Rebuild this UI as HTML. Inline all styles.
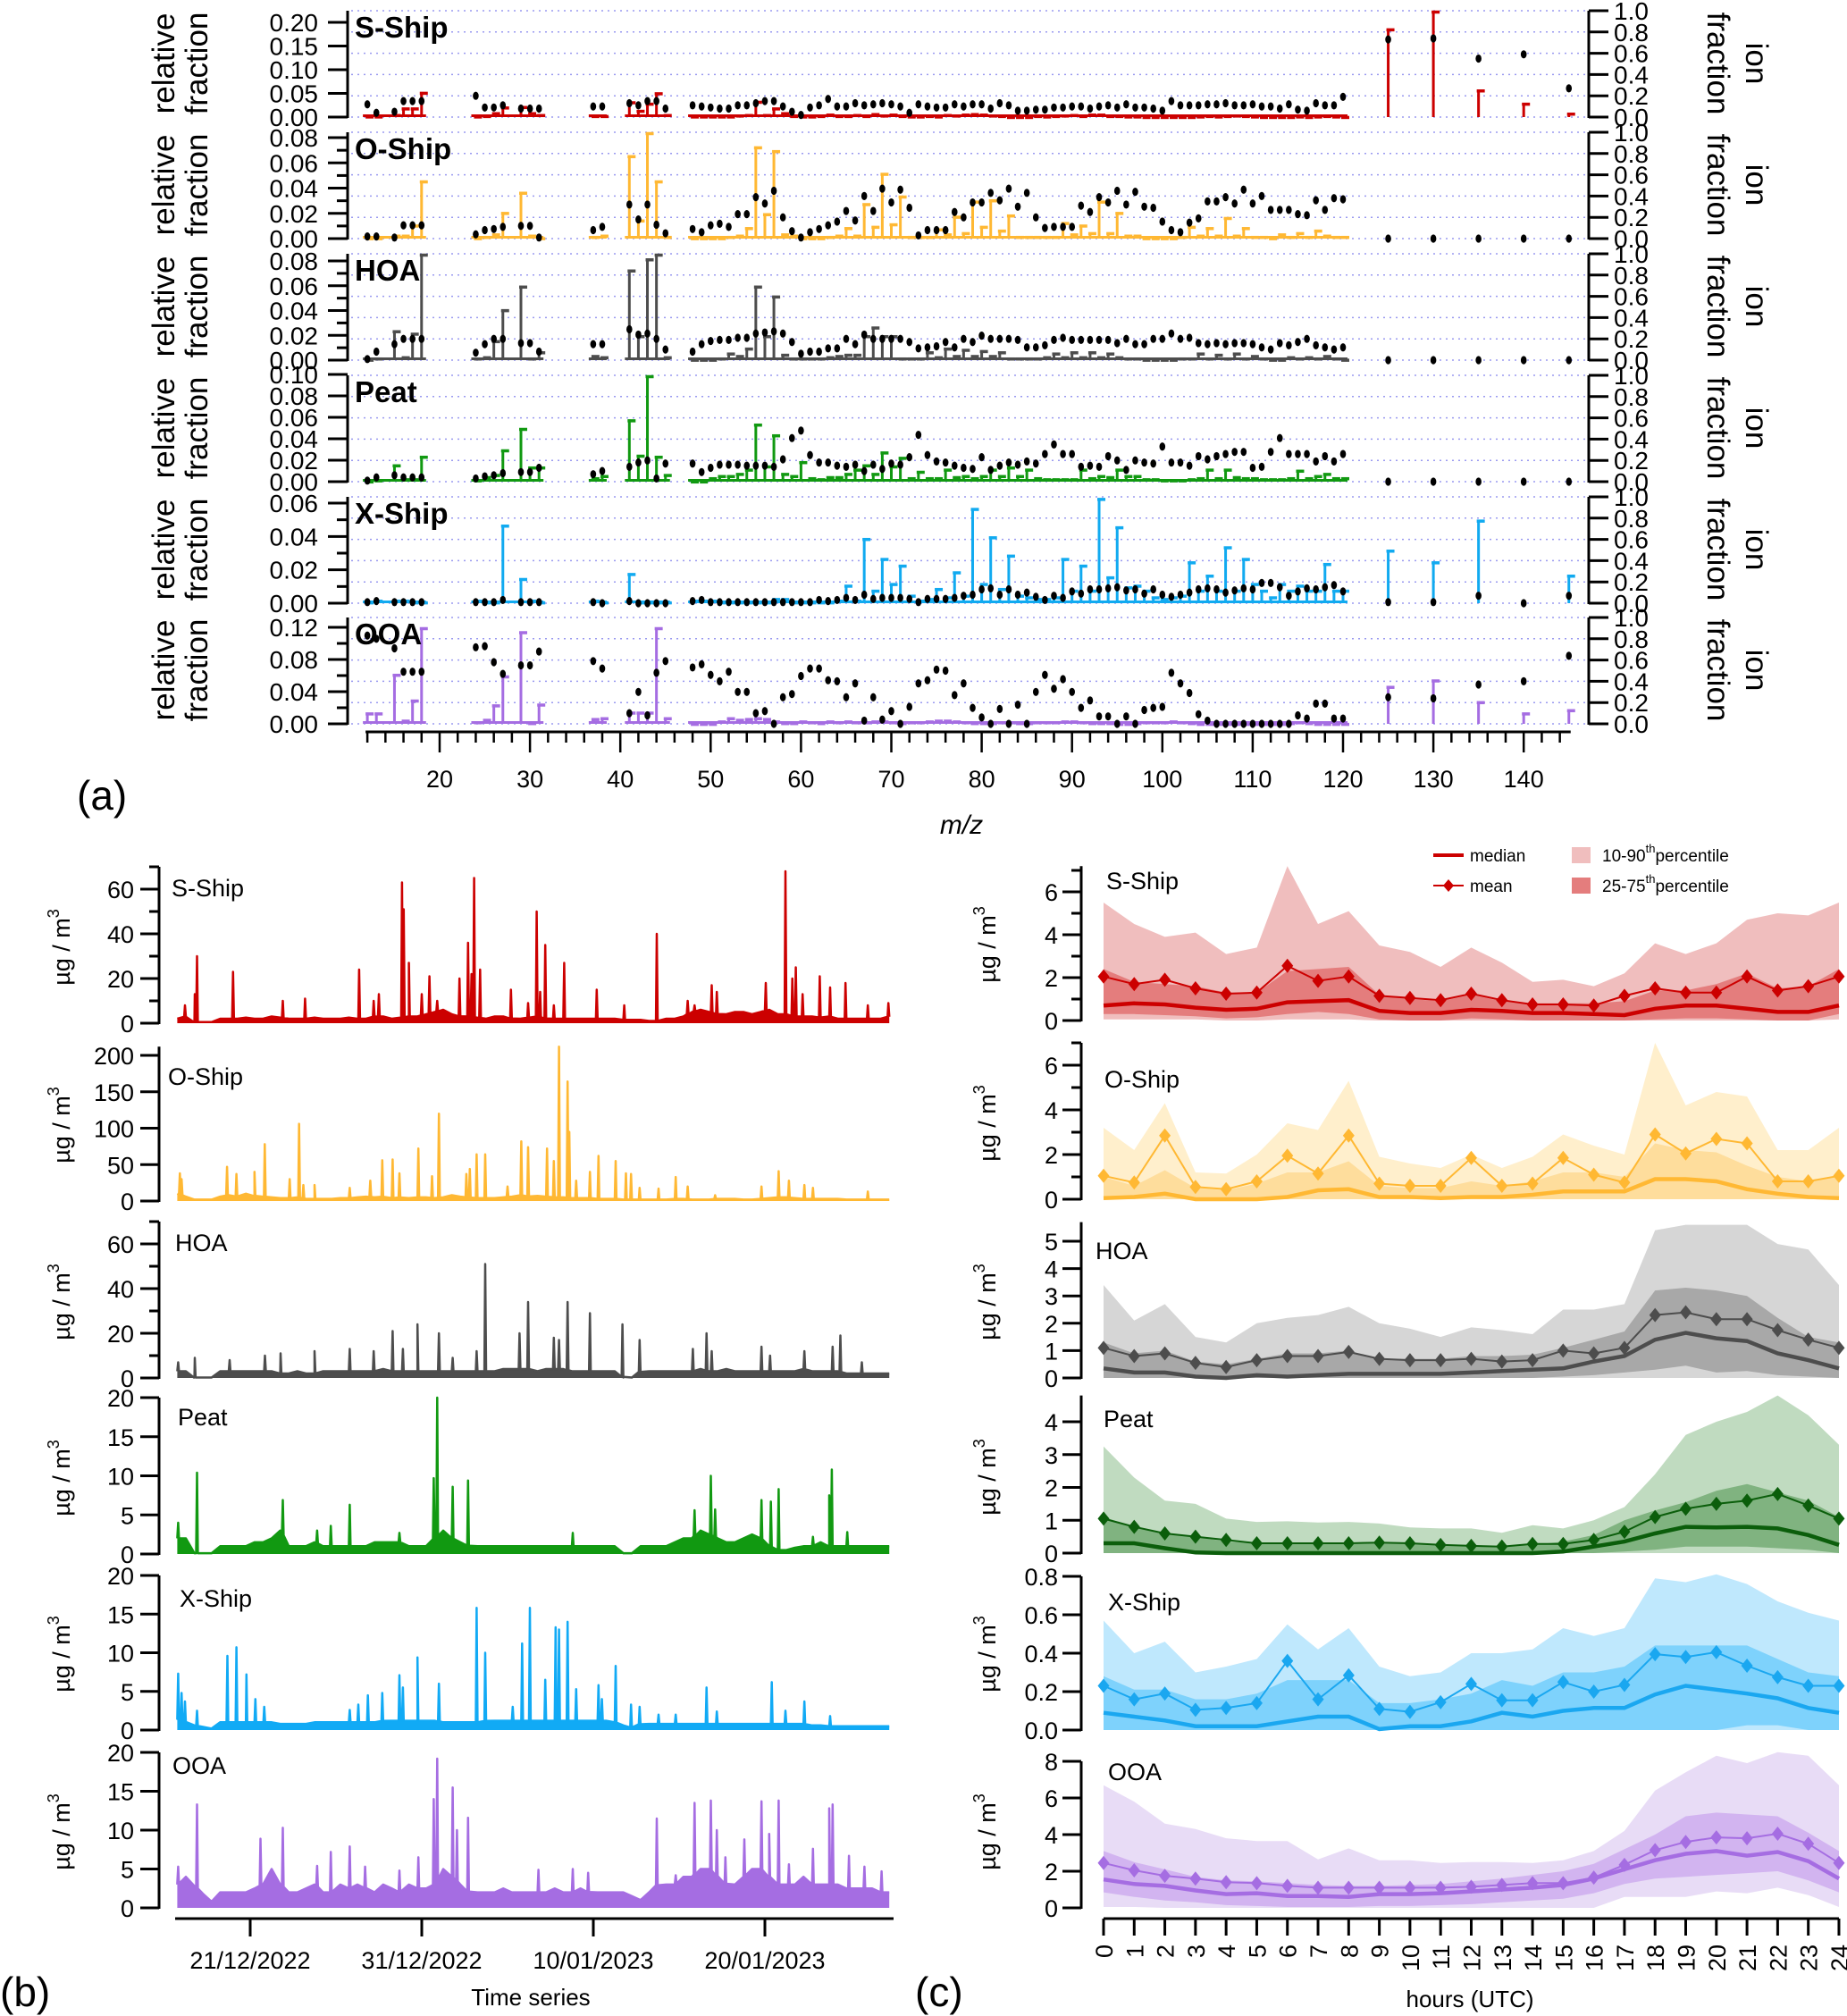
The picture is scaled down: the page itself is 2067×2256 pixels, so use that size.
<!DOCTYPE html>
<html><head><meta charset="utf-8">
<style>
body{margin:0;background:#fff}
svg{display:block;font-family:"Liberation Sans",Arial,sans-serif}
</style></head>
<body>
<svg id="chart" width="2067" height="2256" viewBox="0 0 2067 2256" xmlns="http://www.w3.org/2000/svg">
<rect width="2067" height="2256" fill="#fff"/>
<g id="pa"></g>
<g id="pb"></g>
<g id="pc"></g>
<text x="86" y="906" font-size="46">(a)</text>
<text x="1076" y="933" font-size="30" font-style="italic" text-anchor="middle">m/z</text>
<text x="0" y="2245" font-size="46">(b)</text>
<text x="594" y="2244" font-size="26" text-anchor="middle">Time series</text>
<text x="1024" y="2245" font-size="46">(c)</text>
<text x="1645" y="2246" font-size="26" text-anchor="middle">hours (UTC)</text>
<g>
<line x1="1604" y1="957" x2="1638" y2="957" stroke="#cc0000" stroke-width="4"/>
<text x="1645" y="964" font-size="19">median</text>
<line x1="1604" y1="991" x2="1638" y2="991" stroke="#cc0000" stroke-width="2"/>
<path d="M1621,984 L1627,991 L1621,998 L1615,991 Z" fill="#cc0000"/>
<text x="1645" y="998" font-size="19">mean</text>
<rect x="1759" y="948" width="21" height="18" fill="#f0bebe"/>
<text x="1793" y="964" font-size="19">10-90<tspan dy="-10" font-size="13">th</tspan><tspan dy="10">percentile</tspan></text>
<rect x="1759" y="982" width="21" height="18" fill="#e47d7d"/>
<text x="1793" y="998" font-size="19">25-75<tspan dy="-10" font-size="13">th</tspan><tspan dy="10">percentile</tspan></text>
</g>
</svg>
<script>
// ================= PANEL (a) DATA =================
const mzList = [12,13,15,16,17,18,24,25,26,27,29,30,31,37,38,41,42,43,44,45,
48,49,50,51,52,53,54,55,56,57,58,59,60,61,62,63,64,65,66,67,68,69,70,71,72,73,74,75,76,77,78,79,80,81,82,83,84,85,86,87,88,89,90,91,92,93,94,95,96,97,98,99,100,101,102,103,104,105,106,107,108,109,110,111,112,113,114,115,116,117,118,119,120,
125,130,135,140,145];
const mzTickLabels = [20,30,40,50,60,70,80,90,100,110,120,130,140];

const sTop = [.003,.003,.006,.02,.02,.053, .003,.004,.01,.022,.023,.01,.006, .004,.004, .033,.015,.03,.052,.006,
.003,.003,.003,.003,.003,.005,.006,.034,.006,.02, .01,.004,.003,.003,.004,.007,.004,.004,.006,.004,
.008,.005,.007,.004,.003,.003,.004,.003,.006,.005, .007,.008,.007,.005,.004,.002,.002,.002,.004,.003,
.004,.005,.006,.004,.007,.007,.004,.004,.003,.003, .002,.002,.002,.002,.002,.002,.003,.004,.003,.004,
.005,.004,.003,.002,.002,.002,.002,.003,.002,.003, .004,.003,.002, .187,.225,.058,.03,.009];
const sDot = [.12,.04,.05,.15,.15,.15, .2,.09,.09,.11,.08,.08,.08, .1,.1, .13,.11,.15,.15,.08,
.11,.1,.09,.08,.08,.11,.11,.13,.15,.15, .1,.05,.02,.09,.11,.17,.1,.1,.13,.11,
.12,.13,.12,.1,.04,.12,.1,.09,.09,.12, .1,.12,.12,.08,.13,.11,.06,.06,.07,.07,
.09,.09,.1,.1,.08,.1,.11,.09,.12,.09, .09,.08,.06,.15,.11,.11,.11,.12,.12,.13,
.11,.11,.12,.1,.1,.08,.12,.07,.06,.13, .11,.11,.19, .73,.74,.55,.59,.27];

const oTop = [.001,.001,.003,.003,.011,.046, .001,.002,.004,.021,.037,.003,.001, .002,.003, .066,.015,.085,.046,.002,
.001,.001,.001,.001,.002,.003,.009,.073,.02,.07, .004,.003,.001,.001,.001,.002,.003,.009,.003,.028,
.01,.052,.012,.034,.002,.002,.002,.008,.004,.018, .005,.03,.01,.031,.007,.019,.002,.002,.002,.002,
.002,.013,.004,.011,.005,.03,.005,.021,.003,.003, .001,.001,.001,.001,.002,.01,.003,.009,.003,.017,
.003,.009,.002,.002,.001,.004,.002,.005,.002,.007, .003,.002,.002, 0,0,0,0,0];
const oDot = [.02,.02,.01,.125,.125,.125, .04,.08,.09,.11,.12,.12,.01, .08,.11, .32,.18,.32,.13,.05,
.09,.06,.125,.14,.11,.23,.23,.39,.33,.45, .2,.07,.01,.06,.09,.125,.16,.26,.17,.4,
.26,.47,.34,.46,.29,.03,.08,.08,.08,.25, .2,.34,.34,.43,.36,.47,.3,.43,.2,.1,
.11,.11,.11,.31,.25,.39,.34,.45,.32,.44, .3,.29,.16,.08,.06,.15,.19,.35,.35,.39,
.33,.46,.33,.4,.27,.27,.27,.23,.22,.36, .27,.38,.37, 0,0,0,0,0];

const hTop = [.001,.002,.024,.003,.022,.088, .002,.003,.016,.041,.06,.002,.007, .004,.003, .073,.02,.082,.086,.003,
.001,.001,.001,.002,.006,.004,.01,.06,.02,.052, .005,.002,.002,.002,.002,.003,.004,.005,.005,.02,
.027,.02,.02,.002,.002,.002,.007,.003,.01,.004, .009,.004,.008,.004,.007,.002,.002,.002,.002,.003,
.006,.003,.007,.003,.007,.003,.006,.003,.002,.002, .001,.001,.001,.001,.002,.002,.006,.002,.005,.002,
.006,.002,.004,.002,.001,.001,.003,.002,.003,.002, .004,.002,.001, 0,0,0,0,0];
const hDot = [.01,.08,.15,.2,.2,.2, .07,.15,.2,.2,.16,.16,.08, .15,.15, .29,.24,.25,.2,.1,
.08,.15,.18,.19,.19,.21,.21,.25,.26,.27, .25,.17,.06,.08,.08,.11,.11,.2,.15,.24,
.2,.2,.2,.2,.17,.11,.12,.13,.17,.12, .2,.17,.23,.2,.2,.2,.19,.12,.12,.14,
.19,.21,.19,.19,.19,.19,.19,.16,.2,.15, .15,.2,.2,.25,.2,.21,.16,.15,.16,.15,
.16,.16,.15,.12,.1,.16,.14,.17,.2,.14, .12,.1,.12, 0,0,0,0,0];

const pTop = [.001,.002,.016,.003,.003,.024, .002,.005,.007,.03,.05,.014,.014, .004,.006, .058,.025,.1,.024,.007,
.001,.001,.004,.006,.006,.008,.012,.054,.015,.044, .008,.006,.019,.004,.003,.005,.005,.008,.012,.016,
.008,.028,.015,.023,.004,.01,.004,.004,.012,.005, .006,.004,.006,.012,.006,.014,.006,.012,.004,.003,
.003,.003,.003,.012,.004,.006,.005,.012,.006,.006, .003,.003,.002,.002,.002,.003,.004,.012,.004,.012,
.005,.004,.004,.003,.003,.003,.004,.011,.004,.006, .008,.004,.004, 0,0,0,0,0];
const pDot = [.01,.04,.06,.04,.04,.04, .03,.05,.06,.08,.09,.09,.13, .07,.1, .14,.18,.2,.03,.17,
.17,.09,.13,.16,.16,.16,.15,.15,.15,.14, .21,.41,.48,.25,.18,.18,.15,.14,.16,.1,
.16,.12,.17,.16,.23,.44,.25,.19,.18,.15, .13,.12,.23,.11,.15,.18,.16,.19,.17,.26,
.35,.26,.26,.14,.15,.14,.24,.2,.11,.2, .18,.17,.33,.18,.18,.15,.24,.21,.24,.26,
.28,.28,.13,.14,.28,.41,.26,.26,.26,.19, .24,.19,.26, 0,0,0,0,0];

const xTop = [.001,.002,.002,.002,.001,.001, .002,.001,.001,.047,.015,.002,.001, .002,.001, .018,.001,.001,.001,.001,
.002,.002,.002,.001,.001,.001,.001,.001,.001,.003, .003,.001,.001,.001,.001,.001,.002,.011,.002,.039,
.008,.027,.012,.023,.005,.002,.003,.009,.004,.019, .005,.057,.012,.04,.009,.029,.005,.004,.003,.003,
.004,.027,.008,.023,.008,.063,.016,.046,.01,.011, .008,.004,.003,.004,.005,.025,.008,.017,.008,.034,
.008,.027,.012,.008,.004,.012,.008,.011,.008,.008, .024,.008,.008, .032,.025,.05,0,.017];
const xDot = [.01,.02,.01,.01,.01,.01, .01,.01,.01,.03,.01,.01,.01, .01,0, .02,0,0,0,0,
.02,.03,.01,.01,.01,.01,.01,.01,.01,.01, .01,.01,.01,.01,.03,.02,.03,.05,.03,.08,
.04,.05,.05,.05,.04,.01,.04,.04,.04,.05, .07,.08,.13,.14,.08,.13,.08,.1,.06,.03,
.07,.05,.11,.09,.13,.13,.14,.15,.12,.13, .09,.13,.08,.06,.08,.1,.13,.14,.13,.1,
.12,.14,.13,.19,.19,.15,.07,.11,.14,.13, .15,.17,.11, .01,.01,.07,0,.07];

const ooTop = [.014,.014,.062,.005,.03,.12, .003,.006,.024,.06,.115,.002,.025, .007,.008, .015,.015,.015,.12,.008,
.001,.001,.001,.004,.008,.006,.007,.008,.007,.004, .002,.002,.004,.003,.002,.004,.003,.004,.003,.003,
.004,.004,.003,.002,.003,.003,.004,.005,.005,.004, .003,.002,.002,.002,.003,.003,.002,.002,.003,.003,
.003,.004,.004,.003,.002,.002,.002,.001,.001,.002, .003,.003,.003,.004,.003,.002,.001,.001,.001,.001,
.001,.001,.001,.001,.001,.001,.002,.003,.002,.001, .001,.001,.001, .047,.055,.028,.014,.018];
const ooDot = [.83,.8,.71,.49,.49,.49, .72,.73,.58,.47,.55,.55,.68, .59,.52, .1,.3,.08,.48,.59,
.53,.56,.46,.4,.49,.3,.3,.1,.12,0, .25,.28,.45,.52,.52,.41,.4,.25,.38,.03,
.25,.04,.12,0,.16,.38,.41,.51,.5,.27, .38,.15,.06,0,.14,0,.18,0,.3,.46,
.33,.42,.3,.15,.22,.07,.07,0,.07,0, .13,.15,.16,.48,.38,.29,.09,.03,0,0,
0,0,0,0,0,0,0,.08,.05,.19, .19,.05,.05, .25,.24,.37,.4,.64];

// ================= PANEL (b) DATA =================
const dateTickDays = [5,15,25,35];
const dateTickLabels = ['21/12/2022','31/12/2022','10/01/2023','20/01/2023'];
const sBase = [2,3,0.5,0.5,0.5,2,2,2,2.5,2, 2,3,2.5,2,2,2,2.5,2,2,2, 2.5,2,2,3,3,2,2.5,3,3,4, 5,6,4,3,3,2.5,2,3,3,2, 2,2.5,3,2,2,2,2,2,2,2, 2,2,1.5,1.5,1.5,1,1,2,2,3, 5,6,5,4,4,5,5,4,5,6, 4,4,3,3,3,2.5,3,2,2,2, 2,2,2,3];
const sSpikeDays = [1.2,1.77,1.9,4.0,6.9,8.2,11.35,12.2,12.5,13.85,13.95,14.25,15.0,15.45,15.9,17.2,17.7,17.9,18.05,18.4,20.2,21.2,21.7,21.9,22.2,22.7,23.3,25.2,26.8,28.7,30.5,30.9,31.9,32.2,35.05,36.2,36.6,36.8,37.2,38.2,38.8,39.7,41.0,42.2];
const sSpikeVals = [8,13,30,23,10,11,24,10,13,63,51,27,13,21,10,20,36,22,65,24,15,9,50,14,35,8,27,15,8,40,10,8,17,14,18,68,20,25,13,21,16,18,8,9];
const oBase = [10,6,2,2,2,6,8,6,10,7, 6,5,4,4,5,3,3,3,3,4, 4,5,6,5,6,4,5,4,5,5, 4,5,8,6,5,4,4,4,5,6, 8,6,7,6,5,5,4,4,4,3, 3,3,2,2,2,2,2,2,3,3, 2,2,2,3,3,3,2,2,3,4, 5,5,4,3,3,3,3,3,2,2, 2,2,2,2];
const oSpikeDays = [0.9,1.0,3.65,4.2,5.25,5.85,7.3,7.85,8.1,8.75,10.8,12.0,12.7,13.3,13.7,14.8,15.6,16.0,17.6,17.8,18.2,18.7,20.0,20.8,21.2,22.3,22.7,23.0,23.5,23.6,24.0,24.8,25.3,26.3,26.9,27.2,27.7,28.8,29.8,30.5,32.1,34.8,35.8,36.4,37.3,37.8,41.0];
const oSpikeVals = [38,30,47,37,40,78,30,106,22,22,18,28,56,57,38,72,34,120,37,44,64,64,20,82,74,72,55,212,164,95,28,40,62,55,38,37,18,17,33,20,8,20,41,28,22,18,13];
const hBase = [3,3,0.2,0.2,0.2,3,3,3,3,3, 3,3,2,2,3,2,2,3,3,3, 3,3,3,3,4,3,3,3,3,3, 3,3,3,3,3,3,3,3,4,4, 4,4,3,4,4,4,3,3,3,3, 3,3,0.2,0.2,3,3,3,3,3,3, 3,4,3,3,4,3,3,3,3,3, 3,3,3,4,3,3,3,3,2,2, 2,2,2,2];
const hSpikeDays = [0.8,1.77,3.8,5.86,6.77,8.75,10.8,12.2,13.3,13.9,14.75,16.0,16.8,18.2,18.7,20.7,21.2,22.7,23.0,23.5,24.8,26.7,27.7,30.8,31.6,31.9,34.8,35.3,37.3,38.95,39.4,40.65];
const hSpikeVals = [7,9,8,10,11,12,13,12,21,13,24,20,9,12,51,20,34,18,17,34,29,24,17,13,20,12,14,10,12,14,19,7];
const pBase = [2,2,0.1,0.1,0.1,1,1,1,1,1.5, 1.5,2,3,1,1,1,1.5,1,1,1, 1,1,1,1.5,1.5,1.5,1.5,1,1,1, 2,3,2,1.5,1,1,1,1,1,1, 1,1,1,1,1,1,1,1,1,1, 1,1,0.1,0.1,1,1,1,1,1.5,2, 2,3,2.5,2,1.5,1.5,2,2.5,2,1, 0.5,0.5,0.8,1,1,1.5,1,1,1,1, 1,1,1,1];
const pSpikeDays = [0.8,1.9,6.9,8.9,9.7,10.8,13.7,15.7,15.9,16.8,17.7,23.8,30.9,31.85,32.1,34.8,35.35,35.8,37.8,38.75,38.9,39.8];
const pSpikeVals = [4,10.4,6.9,3,3.6,6.3,2.7,9.7,20,8.6,9.4,2.7,5.6,10,5.7,6.9,6.7,8.3,2.2,7.5,10.8,2.8];
const xBase = [1.5,1,0.6,0.4,0.2,1,1,1,1,1, 1,1,0.8,0.8,0.8,0.8,1,1,1,1, 1,1,1,1,1.2,1.2,1.2,1.2,1.2,1.2, 1.2,1,1,1,1,1,1.2,1.2,1.2,1.2, 1.2,1.2,1.2,1.2,1.2,1.2,1.2,1.2,1.2,1.2, 1.2,1,0.6,0.3,0.8,0.8,0.8,0.8,0.8,0.8, 0.8,0.8,0.8,0.8,0.8,0.8,0.8,0.8,0.8,0.8, 0.8,0.8,0.8,0.8,0.6,0.6,0.5,0.5,0.5,0.5, 0.5,0.5,0.5,0.5];
const xSpikeDays = [0.8,1.0,1.2,1.9,3.67,4.2,4.78,5.3,5.82,10.8,11.3,11.86,12.7,13.7,13.9,14.75,16.0,18.2,18.7,20.3,20.85,21.3,22.2,22.8,23.0,23.5,24.0,25.3,25.5,26.3,27.2,27.7,28.8,29.8,31.6,32.2,35.4,36.2,37.3,38.8];
const xSpikeVals = [7.3,4.8,3.7,2.5,9.6,10.7,7.2,4,3,2.6,3.3,4.5,4.8,7.1,5.5,9.4,6,15.8,10,3,11.2,15.8,6.5,13.3,13,14,5.3,5.8,4,8.3,3.3,3,2,2,5.5,2.4,6.2,2.5,3.7,1.8];
const ooBase = [3,4,2.8,1.8,0.8,2,2,2,2,2.5, 3,5,3,2,2,2.5,3,2,2,3, 2.5,3,2.5,2,3,2.5,2,3,2.5,2.5, 3,5,4,3,2,2,2,2,2.5,2, 2,2,2,2,2.5,2,2,2.5,2,2, 2,2,2,1.5,1,2,3,3,3,4, 4,5,5,4,3,3,4,5,5,4, 3,3,3,4,3,3,3,3,2.5,2.5, 2.5,2.5,2,2];
const ooSpikeDays = [0.8,1.9,5.6,6.9,8.9,9.7,10.8,11.7,13.7,14.8,15.7,15.9,16.8,17.05,17.7,21.8,23.8,24.7,28.7,29.8,30.9,31.85,32.2,32.7,33.8,34.8,35.25,35.8,36.4,37.8,38.75,38.95,39.9,40.8,41.8];
const ooSpikeVals = [5.3,13.3,8.9,10.3,5.4,7.2,7.9,5.3,4.8,6.5,14,19.2,15.5,10,11.6,4.9,5,4.5,11.5,4.2,13.5,13.8,10,6.5,8.8,13.7,9.5,13.8,5.6,7.6,12.8,13.3,6.7,5.3,4.7];

// ================= PANEL (c) DATA =================
const hours = [0,1,2,3,4,5,6,7,8,9,10,11,12,13,14,15,16,17,18,19,20,21,22,23,24];
const sP90 = [5.5,4.5,3.9,4.1,3.1,3.4,7.2,4.5,5.1,3.5,3.2,2.5,3.4,2.7,1.8,1.9,1.6,2.2,3.6,3.1,3.6,4.7,5.0,4.9,5.5];
const sP75 = [2.4,1.8,1.7,1.6,1.3,1.3,2.3,2.4,2.5,1.2,1.0,0.9,1.2,0.9,0.8,0.8,0.8,0.9,1.4,1.4,1.7,2.2,1.5,1.6,2.4];
const sMean = [2.05,1.7,1.9,1.5,1.25,1.3,2.55,1.85,2.05,1.15,1.05,0.95,1.25,0.95,0.75,0.75,0.7,1.15,1.5,1.3,1.3,2.05,1.4,1.6,2.05];
const sMed = [0.7,0.8,0.75,0.6,0.5,0.55,0.85,0.9,0.95,0.45,0.35,0.35,0.5,0.45,0.35,0.35,0.3,0.25,0.55,0.7,0.7,0.55,0.4,0.4,0.7];
const sP25 = [0.3,0.3,0.25,0.2,0.1,0.15,0.3,0.4,0.3,0.05,0,0,0.1,0.05,0,0,0,0,0.05,0.1,0.1,0.05,0,0,0.3];
const sP10 = [0.05,0.05,0.05,0.05,0,0,0.05,0.05,0.05,0,0,0,0,0,0,0,0,0,0,0,0,0,0,0,0.05];
const oP90 = [3.2,2.2,4.3,1.2,1.15,2.0,3.4,3.1,5.3,1.9,1.6,1.4,2.0,1.4,1.9,2.9,2.4,2.0,7.0,4.2,4.8,4.6,2.2,2.2,3.2];
const oP75 = [1.0,0.6,1.3,0.5,0.4,0.7,1.2,1.2,1.7,0.6,0.5,0.5,0.8,0.6,0.8,1.2,1.2,1.0,2.5,2.2,2.1,1.5,1.0,0.8,1.0];
const oMean = [1.05,0.75,2.85,0.55,0.45,0.8,1.95,1.15,2.85,0.7,0.6,0.6,1.85,0.6,0.7,1.85,1.1,0.75,2.9,2.05,2.7,2.5,0.8,0.8,1.05];
const oMed = [0.05,0.1,0.25,0,0,0,0.1,0.4,0.45,0.1,0.1,0.05,0.1,0.1,0.2,0.35,0.35,0.35,0.9,0.9,0.8,0.45,0.25,0.1,0.05];
const oP25 = [0,0,0,0,0,0,0,0,0,0,0,0,0,0,0,0,0,0,0,0,0,0,0,0,0];
const oP10 = [0,0,0,0,0,0,0,0,0,0,0,0,0,0,0,0,0,0,0,0,0,0,0,0,0];
const hP90 = [3.4,2.1,2.7,1.5,1.3,2.0,2.2,2.3,2.6,2.0,1.8,1.5,1.85,1.75,1.6,2.5,2.5,2.7,5.4,5.6,5.6,5.6,4.9,4.7,3.4];
const hP75 = [1.3,0.9,1.0,0.6,0.5,0.7,0.9,0.9,1.0,0.7,0.7,0.7,0.8,0.8,0.85,1.1,1.4,1.7,3.2,3.3,3.2,3.0,2.2,1.5,1.3];
const hMean = [1.1,0.8,0.9,0.55,0.4,0.65,0.8,0.8,0.95,0.7,0.65,0.65,0.7,0.6,0.65,1.0,0.9,1.1,2.3,2.4,2.15,2.15,1.75,1.4,1.1];
const hMed = [0.35,0.2,0.2,0.05,0,0.1,0.05,0.1,0.15,0.15,0.15,0.15,0.2,0.25,0.3,0.35,0.6,0.8,1.4,1.65,1.45,1.35,0.9,0.65,0.35];
const hP25 = [0,0,0,0,0,0,0,0,0,0,0,0,0,0,0,0.05,0.1,0.2,0.3,0.45,0.2,0.25,0.1,0.05,0];
const hP10 = [0,0,0,0,0,0,0,0,0,0,0,0,0,0,0,0,0,0,0,0,0,0,0,0,0];
const pP90 = [3.25,2.3,1.6,1.5,1.05,0.95,0.97,0.93,0.95,0.9,0.78,0.75,0.75,0.62,0.85,0.75,1.0,1.4,2.4,3.6,4.0,4.3,4.8,4.2,3.3];
const pP75 = [1.1,0.8,0.6,0.5,0.35,0.3,0.3,0.3,0.3,0.3,0.3,0.25,0.25,0.2,0.25,0.35,0.55,1.0,1.3,1.55,1.9,2.1,1.85,1.6,1.1];
const pMean = [1.05,0.8,0.6,0.5,0.4,0.3,0.3,0.3,0.3,0.32,0.3,0.25,0.22,0.2,0.28,0.28,0.4,0.65,1.1,1.35,1.5,1.6,1.8,1.45,1.05];
const pMed = [0.3,0.3,0.15,0.02,0,0,0,0,0,0,0,0,0,0,0,0.05,0.2,0.35,0.6,0.8,0.78,0.8,0.75,0.55,0.25];
const pP25 = [0,0,0,0,0,0,0,0,0,0,0,0,0,0,0,0,0,0.05,0.1,0.2,0.2,0.2,0.15,0.1,0];
const pP10 = [0,0,0,0,0,0,0,0,0,0,0,0,0,0,0,0,0,0,0,0,0,0,0,0,0];
const xP90 = [.57,.40,.46,.30,.33,.37,.55,.42,.53,.33,.28,.30,.40,.40,.42,.53,.49,.53,.79,.77,.81,.76,.67,.61,.57];
const xP75 = [.28,.21,.21,.16,.16,.19,.26,.26,.26,.14,.14,.16,.19,.26,.23,.30,.30,.33,.44,.44,.44,.44,.37,.30,.28];
const xMean = [.23,.16,.19,.105,.115,.14,.36,.16,.285,.11,.095,.145,.24,.155,.155,.25,.20,.235,.395,.38,.405,.335,.275,.23,.23];
const xMed = [.09,.07,.05,.02,.02,.02,.045,.07,.07,.005,.02,.02,.045,.09,.07,.10,.115,.115,.185,.23,.21,.19,.165,.115,.09];
const xP25 = [0,0,0,0,0,0,0,0,0,0,0,0,0,0,0,0,0,0,0,0,0,.025,.025,0,0];
const xP10 = [0,0,0,0,0,0,0,0,0,0,0,0,0,0,0,0,0,0,0,0,0,0,0,0,0];
const ooP90 = [6.7,5.8,4.6,4.3,3.8,3.65,3.65,2.65,3.25,2.6,2.6,2.45,2.5,2.5,2.45,2.6,3.1,4.2,6.4,7.4,8.3,7.9,8.5,8.3,6.7];
const ooP75 = [3.1,2.5,2.1,1.7,1.5,1.45,1.35,1.25,1.2,1.2,1.25,1.3,1.45,1.6,1.8,2.0,2.4,3.2,4.0,5.0,5.2,5.1,5.0,4.1,3.1];
const ooMean = [2.45,2.05,1.75,1.6,1.4,1.35,1.2,1.1,1.1,1.1,1.1,1.1,1.15,1.25,1.35,1.35,1.65,2.35,3.15,3.6,3.85,3.8,4.05,3.5,2.45];
const ooMed = [1.55,1.3,1.2,0.95,0.75,0.8,0.65,0.65,0.6,0.75,0.75,0.8,0.9,1.0,1.1,1.25,1.6,2.1,2.6,2.95,3.1,2.85,3.05,2.55,1.6];
const ooP25 = [0.85,0.6,0.4,0.3,0.15,0.1,0.05,0.05,0.05,0.1,0.1,0.15,0.2,0.3,0.4,0.5,0.8,1.3,1.6,1.7,1.8,1.9,2.0,1.5,0.85];
const ooP10 = [0.05,0.05,0,0,0,0,0,0,0,0,0,0,0,0,0,0,0,0.6,0.6,0.6,0.9,0.8,1.1,0.7,0.05];

// ================= HELPERS =================
const NS = 'http://www.w3.org/2000/svg';
function mk(tag, parent) { const e = document.createElementNS(NS, tag); parent.appendChild(e); return e; }
function at(e, k, v) { e.setAttribute(k, v); }
const gA = document.getElementById('pa');
const gB = document.getElementById('pb');
const gC = document.getElementById('pc');

function line(parent, x1, y1, x2, y2, color, w) {
  const l = mk('line', parent);
  at(l,'x1',x1); at(l,'y1',y1); at(l,'x2',x2); at(l,'y2',y2);
  at(l,'stroke',color); at(l,'stroke-width',w);
  return l;
}
function text(parent, x, y, str, size, anchor) {
  const t = mk('text', parent);
  at(t,'x',x); at(t,'y',y); at(t,'font-size',size);
  if (anchor) at(t,'text-anchor',anchor);
  t.textContent = str;
  return t;
}

// ================= PANEL (a) =================
const xa = mz => 492 + (mz - 20) * 10.11;
const PA = [
  {name:'S-Ship', color:'#cc0000', bottom:131, scale:530, majors:[0,0.05,0.1,0.15,0.2], minors:[], top:sTop, dot:sDot},
  {name:'O-Ship', color:'#ffb833', bottom:267, scale:1412, majors:[0,0.02,0.04,0.06,0.08], minors:[0.01,0.03,0.05,0.07], top:oTop, dot:oDot},
  {name:'HOA', color:'#4d4d4d', bottom:403, scale:1387, majors:[0,0.02,0.04,0.06,0.08], minors:[0.01,0.03,0.05,0.07], top:hTop, dot:hDot},
  {name:'Peat', color:'#119911', bottom:539, scale:1200, majors:[0,0.02,0.04,0.06,0.08,0.10], minors:[], top:pTop, dot:pDot},
  {name:'X-Ship', color:'#11aaf0', bottom:675, scale:1867, majors:[0,0.02,0.04,0.06], minors:[0.01,0.03,0.05], top:xTop, dot:xDot},
  {name:'OOA', color:'#a56de2', bottom:810, scale:900, majors:[0,0.04,0.08,0.12], minors:[0.02,0.06,0.10], top:ooTop, dot:ooDot}
];
const rightTicks = [0,0.2,0.4,0.6,0.8,1.0];
const groups = [[0,5],[6,12],[13,14],[15,19],[20,92]];
PA.forEach(p => {
  const g = mk('g', gA);
  
  
  const yR = v => p.bottom - v * 119;
  const yL = v => p.bottom - v * p.scale;
  rightTicks.forEach(v => {
    const gl = line(g, 393, yR(v), 1775, yR(v), '#9a9af0', 1.5);
    at(gl,'stroke-dasharray','2,5');
    
    
  });
  // left axis
  const ax = line(g, 389, p.bottom + 1, 389, p.bottom - 119, '#000', 3);
  
  
  p.majors.forEach(v => {
    line(g, 367, yL(v), 389, yL(v), '#000', 3);
    const t = text(g, 356, yL(v) + 10, v.toFixed(2), 28, 'end');
    
    
  });
  p.minors.forEach(v => line(g, 377, yL(v), 389, yL(v), '#000', 3));
  // right axis
  const rx = line(g, 1778, p.bottom + 1, 1778, p.bottom - 119, '#000', 3);
  
  
  rightTicks.forEach(v => {
    line(g, 1778, yR(v), 1800, yR(v), '#000', 3);
    const t = text(g, 1806, yR(v) + 10, v.toFixed(1), 28, 'start');
    
    
  });
  // baselines per group
  groups.forEach(gr => {
    const b = line(g, xa(mzList[gr[0]]) - 5, p.bottom - 1.5, xa(mzList[gr[1]]) + 5, p.bottom - 1.5, p.color, 3);
    
    
  });
  // bars
  const n = Math.min(mzList.length, p.top.length);
  for (let i = 0; i < n; i++) {
    const v = p.top[i];
    if (v <= 0) continue;
    const x = xa(mzList[i]);
    const yt = Math.max(yL(v), p.bottom - 119);
    const bar = line(g, x, p.bottom, x, yt, p.color, 3);
    
    
    const cap = line(g, x - 2, yt + 1.5, x + 7, yt + 1.5, p.color, 3.5);
    
    
  }
  // dots
  const m = Math.min(mzList.length, p.dot.length);
  for (let i = 0; i < m; i++) {
    const d = mk('ellipse', g);
    at(d,'cx',xa(mzList[i])); at(d,'cy',yR(p.dot[i])); at(d,'rx',3.3); at(d,'ry',4.6); at(d,'fill','#000');
    
    
  }
  const lab = text(g, 397, p.bottom - 89, p.name, 33);
  at(lab,'font-weight','bold');
  
  
  const cy = p.bottom - 60;
  const t1 = text(g, 0, 0, 'relative', 35, 'middle');
  at(t1,'transform','translate(195,' + cy + ') rotate(-90)');
  
  
  const t2 = text(g, 0, 0, 'fraction', 35, 'middle');
  at(t2,'transform','translate(232,' + cy + ') rotate(-90)');
  
  
  const t3 = text(g, 0, 0, 'ion', 35, 'middle');
  at(t3,'transform','translate(1954,' + cy + ') rotate(90)');
  
  
  const t4 = text(g, 0, 0, 'fraction', 35, 'middle');
  at(t4,'transform','translate(1911,' + cy + ') rotate(90)');
  
  
});
// m/z axis
{
  const g = mk('g', gA);
  
  
  line(g, xa(12) - 2, 819, xa(145) + 2, 819, '#000', 3);
  for (let mz = 12; mz <= 144; mz += 2) {
    const major = mz % 10 === 0;
    line(g, xa(mz), 819, xa(mz), major ? 842 : 831, '#000', 2.5);
  }
  mzTickLabels.forEach(v => {
    const t = text(g, xa(v), 881, String(v), 27, 'middle');
    
    
  });
}

// ================= PANEL (b) =================
const xb = d => 280 + (d - 5) * 19.2;
const PB = [
  {name:'S-Ship', color:'#cc0000', bottom:1145, scale:2.5, top:70, majors:[0,20,40,60], minors:[10,30,50,70], base:sBase, sd:sSpikeDays, sv:sSpikeVals, lx:192, ly:142},
  {name:'O-Ship', color:'#ffb833', bottom:1344, scale:0.815, top:212, majors:[0,50,100,150,200], minors:[], base:oBase, sd:oSpikeDays, sv:oSpikeVals, lx:188, ly:130},
  {name:'HOA', color:'#4d4d4d', bottom:1542, scale:2.5, top:70, majors:[0,20,40,60], minors:[10,30,50,70], base:hBase, sd:hSpikeDays, sv:hSpikeVals, lx:196, ly:142},
  {name:'Peat', color:'#119911', bottom:1739, scale:8.75, top:20, majors:[0,5,10,15,20], minors:[], base:pBase, sd:pSpikeDays, sv:pSpikeVals, lx:199, ly:144},
  {name:'X-Ship', color:'#11aaf5', bottom:1936, scale:8.65, top:20, majors:[0,5,10,15,20], minors:[], base:xBase, sd:xSpikeDays, sv:xSpikeVals, lx:201, ly:138},
  {name:'OOA', color:'#a56de2', bottom:2135, scale:8.7, top:20, majors:[0,5,10,15,20], minors:[], base:ooBase, sd:ooSpikeDays, sv:ooSpikeVals, lx:193, ly:150}
];
function unitTitle(parent, cx, cy) {
  const t = mk('text', parent);
  at(t,'font-size',27); at(t,'text-anchor','middle');
  at(t,'transform','translate(' + cx + ',' + cy + ') rotate(-90)');
  t.appendChild(document.createTextNode('µg / m'));
  const s = mk('tspan', t); at(s,'dy',-12); at(s,'font-size',18); s.textContent = '3';
  return t;
}
PB.forEach(p => {
  const g = mk('g', gB);
  
  
  const y = v => p.bottom - v * p.scale;
  const baseDay = i => 0.75 + 0.5 * i;
  const baseAt = d => {
    let f = (d - 0.75) / 0.5; if (f < 0) f = 0; if (f > p.base.length - 1) f = p.base.length - 1;
    const i0 = Math.floor(f), i1 = Math.min(i0 + 1, p.base.length - 1), fr = f - i0;
    return p.base[i0] * (1 - fr) + p.base[i1] * fr;
  };
  // filled base
  let pts = [];
  p.base.forEach((v, i) => pts.push([baseDay(i), v]));
  let poly = pts.map(q => xb(q[0]).toFixed(1) + ',' + y(q[1]).toFixed(1)).join(' ');
  poly += ' ' + xb(baseDay(p.base.length - 1)).toFixed(1) + ',' + p.bottom + ' ' + xb(0.75).toFixed(1) + ',' + p.bottom;
  const fill = mk('polygon', g);
  at(fill,'points',poly); at(fill,'fill',p.color);
  
  
  // line with spikes
  const all = pts.slice();
  const n = Math.min(p.sd.length, p.sv.length);
  for (let i = 0; i < n; i++) {
    const d = p.sd[i];
    all.push([d - 0.05, baseAt(d)]); all.push([d, p.sv[i]]); all.push([d + 0.05, baseAt(d)]);
  }
  all.sort((a, b) => a[0] - b[0]);
  const pl = mk('polyline', g);
  at(pl,'points', all.map(q => xb(q[0]).toFixed(1) + ',' + y(q[1]).toFixed(1)).join(' '));
  at(pl,'fill','none'); at(pl,'stroke',p.color); at(pl,'stroke-width',2.5); at(pl,'stroke-linejoin','round');
  
  
  // axis
  const ax = line(g, 178, p.bottom + 1, 178, y(p.top), '#000', 3);
  
  
  p.majors.forEach(v => {
    line(g, 157, y(v), 178, y(v), '#000', 3);
    const t = text(g, 150, y(v) + 10, String(v), 27, 'end');
    
    
  });
  p.minors.forEach(v => line(g, 167, y(v), 178, y(v), '#000', 3));
  const lab = text(g, p.lx, p.bottom - p.ly, p.name, 27);
  
  
  const ut = unitTitle(g, 78, p.bottom - 85);
  
  
});
{
  const g = mk('g', gB);
  
  
  line(g, 196, 2147, 1000, 2147, '#000', 3);
  dateTickDays.forEach((d, i) => {
    line(g, xb(d), 2147, xb(d), 2167, '#000', 3);
    const t = text(g, xb(d), 2203, dateTickLabels[i], 27, 'middle');
    
    
  });
}

// ================= PANEL (c) =================
const xc = h => 1235 + h * 34.29;
const PC = [
  {name:'S-Ship', light:'#f0bebe', mid:'#e47d7d', line:'#cc0000', bottom:1142, scale:24, top:7.2, majors:[0,2,4,6], minors:[1,3,5,7], dec:0, p90:sP90,p75:sP75,mean:sMean,med:sMed,p25:sP25,p10:sP10, lx:1238, ly:147},
  {name:'O-Ship', light:'#ffefcc', mid:'#fedd9c', line:'#ffb833', bottom:1342, scale:25, top:7, majors:[0,2,4,6], minors:[1,3,5,7], dec:0, p90:oP90,p75:oP75,mean:oMean,med:oMed,p25:oP25,p10:oP10, lx:1236, ly:125},
  {name:'HOA', light:'#d6d6d6', mid:'#a8a8a8', line:'#4d4d4d', bottom:1542, scale:30.6, top:5.7, majors:[0,1,2,3,4,5], minors:[], dec:0, p90:hP90,p75:hP75,mean:hMean,med:hMed,p25:hP25,p10:hP10, lx:1226, ly:133},
  {name:'Peat', light:'#c0dbc0', mid:'#80b380', line:'#0b5e0b', bottom:1738, scale:36.75, top:4.8, majors:[0,1,2,3,4], minors:[], dec:0, p90:pP90,p75:pP75,mean:pMean,med:pMed,p25:pP25,p10:pP10, lx:1235, ly:141},
  {name:'X-Ship', light:'#bfe8fd', mid:'#7ed2fc', line:'#1aa7f0', bottom:1936, scale:215, top:0.8, majors:[0,0.2,0.4,0.6,0.8], minors:[], dec:1, p90:xP90,p75:xP75,mean:xMean,med:xMed,p25:xP25,p10:xP10, lx:1240, ly:134},
  {name:'OOA', light:'#e8dcf6', mid:'#d2b4f0', line:'#a56de2', bottom:2135, scale:20.5, top:8, majors:[0,2,4,6,8], minors:[], dec:0, p90:ooP90,p75:ooP75,mean:ooMean,med:ooMed,p25:ooP25,p10:ooP10, lx:1240, ly:143}
];
function band(parent, up, lo, y, color) {
  const pts = [];
  hours.forEach((h, i) => pts.push(xc(h).toFixed(1) + ',' + y(up[i]).toFixed(1)));
  for (let i = hours.length - 1; i >= 0; i--) pts.push(xc(hours[i]).toFixed(1) + ',' + y(lo[i]).toFixed(1));
  const pg = mk('polygon', parent);
  at(pg,'points',pts.join(' ')); at(pg,'fill',color);
  return pg;
}
PC.forEach(p => {
  const g = mk('g', gC);
  
  
  const y = v => p.bottom - v * p.scale;
  const b1 = band(g, p.p90, p.p10, y, p.light);
  
  
  const b2 = band(g, p.p75, p.p25, y, p.mid);
  
  
  const med = mk('polyline', g);
  at(med,'points', hours.map((h, i) => xc(h).toFixed(1) + ',' + y(p.med[i]).toFixed(1)).join(' '));
  at(med,'fill','none'); at(med,'stroke',p.line); at(med,'stroke-width',4.5);
  
  
  const mn = mk('polyline', g);
  at(mn,'points', hours.map((h, i) => xc(h).toFixed(1) + ',' + y(p.mean[i]).toFixed(1)).join(' '));
  at(mn,'fill','none'); at(mn,'stroke',p.line); at(mn,'stroke-width',2);
  
  
  hours.forEach((h, i) => {
    const cx = xc(h), cy = y(p.mean[i]);
    const dm = mk('path', g);
    at(dm,'d','M' + cx + ',' + (cy - 8) + ' L' + (cx + 6.5) + ',' + cy + ' L' + cx + ',' + (cy + 8) + ' L' + (cx - 6.5) + ',' + cy + ' Z');
    at(dm,'fill',p.line);
    
    
  });
  const ax = line(g, 1210, p.bottom + 1, 1210, y(p.top), '#000', 3);
  
  
  p.majors.forEach(v => {
    line(g, 1189, y(v), 1210, y(v), '#000', 3);
    const t = text(g, 1184, y(v) + 10, v.toFixed(p.dec), 27, 'end');
    
    
  });
  p.minors.forEach(v => line(g, 1199, y(v), 1210, y(v), '#000', 3));
  const lab = text(g, p.lx, p.bottom - p.ly, p.name, 27);
  
  
  const ut = unitTitle(g, 1114, p.bottom - 85);
  
  
});
{
  const g = mk('g', gC);
  
  
  line(g, xc(0), 2147, xc(24), 2147, '#000', 3);
  hours.forEach(h => {
    line(g, xc(h), 2147, xc(h), 2166, '#000', 3);
    const t = text(g, 0, 0, String(h), 27, 'end');
    at(t,'transform','translate(' + (xc(h) + 10) + ',2176) rotate(-90)');
    
    
  });
}
</script>
</body></html>
